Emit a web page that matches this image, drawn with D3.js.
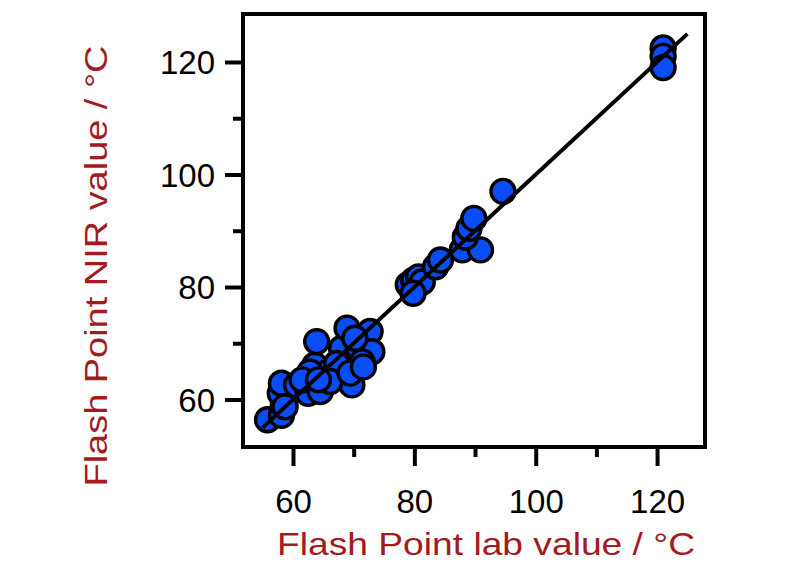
<!DOCTYPE html>
<html>
<head>
<meta charset="utf-8">
<script src="https://cdn.jsdelivr.net/npm/d3@7"></script>
<style>
  html, body { margin: 0; padding: 0; background: #fff; }
  svg { display: block; }
  text { font-family: "Liberation Sans", Arial, sans-serif; }
</style>
</head>
<body>
<svg id="chart" width="800" height="564"></svg>
<script>
// Flash point: lab value (x) vs NIR predicted value (y)
const labValues = [
  55.8, 58.1, 58.4, 57.9, 58.1, 60.6, 62.5, 63.6, 63.9, 64.5, 65.8, 68.0,
  68.9, 68.6, 69.7, 70.8, 72.7, 73.0, 71.4, 67.2, 70.2, 66.1, 62.8, 58.7,
  61.5, 64.2, 69.4, 71.6,
  79.0, 79.9, 80.7, 81.3, 79.8, 83.5, 84.3, 87.9, 90.9, 88.4, 89.0, 89.8,
  94.6,
  121.0, 121.0, 121.0
];
const nirValues = [
  56.4, 57.2, 59.0, 61.1, 62.9, 62.6, 61.1, 66.1, 70.3, 61.4, 64.9, 69.1,
  72.7, 64.9, 62.6, 69.1, 72.1, 68.5, 66.7, 66.4, 70.9, 63.2, 64.9, 58.7,
  63.5, 63.5, 64.7, 65.8,
  80.4, 81.2, 81.8, 80.9, 78.9, 83.6, 84.8, 86.6, 86.6, 88.9, 90.4, 92.2,
  97.0,
  122.5, 121.0, 119.0
];
const majorTicks = [60, 80, 100, 120];
const minorTicks = [70, 90, 110];
const lineEnds = [55, 125];
const xTitle = "Flash Point lab value / °C";
const yTitle = "Flash Point NIR value / °C";

const svg = d3.select("#chart");
const pLeft = 243, pRight = 705, pTop = 14, pBottom = 447;

const x = d3.scaleLinear().domain([51.76, 127.9]).range([pLeft, pRight]);
const y = d3.scaleLinear().domain([51.56, 128.53]).range([pBottom, pTop]);

const titleColor = "#a11b1f";

// frame
svg.append("rect")
  .attr("x", pLeft).attr("y", pTop)
  .attr("width", pRight - pLeft).attr("height", pBottom - pTop)
  .attr("fill", "none").attr("stroke", "#000").attr("stroke-width", 4);

// x axis
const xAxis = svg.append("g").attr("transform", `translate(0,${pBottom})`)
  .call(d3.axisBottom(x).tickValues(majorTicks).tickSize(19).tickPadding(24).tickFormat(d3.format("d")));
const xMinor = svg.append("g").attr("transform", `translate(0,${pBottom})`)
  .call(d3.axisBottom(x).tickValues(minorTicks).tickSize(10).tickFormat(""));

// y axis
const yAxis = svg.append("g").attr("transform", `translate(${pLeft},0)`)
  .call(d3.axisLeft(y).tickValues(majorTicks).tickSize(18).tickPadding(10).tickFormat(d3.format("d")));
const yMinor = svg.append("g").attr("transform", `translate(${pLeft},0)`)
  .call(d3.axisLeft(y).tickValues(minorTicks).tickSize(10).tickFormat(""));

[xAxis, xMinor, yAxis, yMinor].forEach(g => {
  g.select(".domain").remove();
  g.selectAll(".tick line").attr("stroke", "#000").attr("stroke-width", 4);
  g.selectAll(".tick text")
    .attr("fill", "#000")
    .style("font-size", "33px")
    .style("font-family", '"Liberation Sans", Arial, sans-serif');
});
xAxis.selectAll(".tick text").attr("dy", "0.71em");
yAxis.selectAll(".tick text").attr("dy", "0.36em");

// points
const pts = labValues.map((v, i) => ({ lab: v, nir: nirValues[i] }));
svg.append("g").selectAll("circle").data(pts).join("circle")
  .attr("cx", d => x(d.lab))
  .attr("cy", d => y(d.nir))
  .attr("r", 12)
  .attr("fill", "#0a4cf5")
  .attr("stroke", "#000")
  .attr("stroke-width", 3.4);

// 1:1 line
svg.append("line")
  .attr("x1", x(lineEnds[0])).attr("y1", y(lineEnds[0]))
  .attr("x2", x(lineEnds[1])).attr("y2", y(lineEnds[1]))
  .attr("stroke", "#000").attr("stroke-width", 4);

// titles
svg.append("text")
  .attr("x", 486).attr("y", 555)
  .attr("text-anchor", "middle")
  .attr("fill", titleColor)
  .style("font-size", "32px")
  .attr("textLength", 418).attr("lengthAdjust", "spacingAndGlyphs")
  .text(xTitle);

svg.append("text")
  .attr("transform", "translate(107,266) rotate(-90)")
  .attr("text-anchor", "middle")
  .attr("fill", titleColor)
  .style("font-size", "31px")
  .attr("textLength", 441).attr("lengthAdjust", "spacingAndGlyphs")
  .text(yTitle);
</script>
</body>
</html>
